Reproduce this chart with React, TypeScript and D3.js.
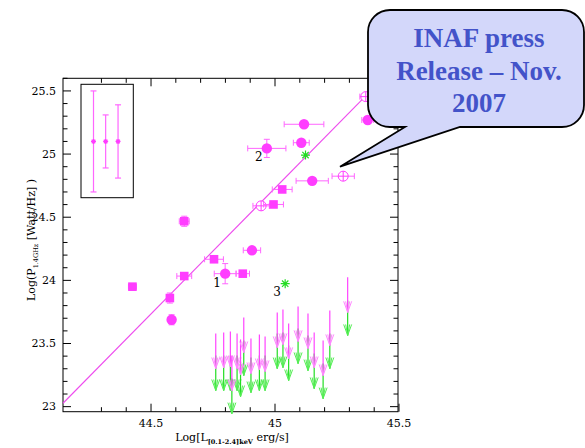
import * as d3 from "d3";

const W = 585;
const H = 448;

// detected sources: log L_X [0.1-2.4 keV], log P_1.4GHz
const detKind = ["sq", "sq", "ci", "sq", "sq", "ci", "sq", "ci", "sq", "op", "sq", "sq", "ci", "op", "ci", "ci", "ci", "ci", "op"];
const detX = [44.425, 44.576, 44.583, 44.634, 44.754, 44.799, 44.870, 44.907, 44.634, 44.944, 44.994, 45.029, 45.150, 45.275, 44.967, 45.106, 45.117, 45.374, 45.366];
const detY = [23.950, 23.860, 23.688, 24.034, 24.167, 24.053, 24.053, 24.238, 24.468, 24.590, 24.601, 24.720, 24.788, 24.825, 25.045, 25.090, 25.236, 25.270, 25.455];
const detXErr = [0.016, 0.012, 0.010, 0.030, 0.038, 0.044, 0.027, 0.035, 0.020, 0.033, 0.040, 0.040, 0.065, 0.045, 0.077, 0.032, 0.080, 0.024, 0.024];
const detYErr = [0.024, 0.040, 0.040, 0.020, 0.020, 0.080, 0.020, 0.020, 0.040, 0.020, 0.020, 0.020, 0.020, 0.020, 0.072, 0.020, 0.020, 0.020, 0.020];

// numbered sources
const numText = ["1", "2"];
const numIdx = [5, 14];

// green stars (other band)
const starX = [45.123, 45.041];
const starY = [24.992, 23.974];

// upper limits: radio (pink) and second band (green)
const ulX = [44.761, 44.793, 44.820, 44.826, 44.847, 44.861, 44.874, 44.903, 44.937, 44.960, 45.009, 45.032, 45.055, 45.093, 45.133, 45.158, 45.194, 45.221, 45.293];
const ulPink = [23.579, 23.587, 23.595, 23.405, 23.579, 23.532, 23.706, 23.540, 23.571, 23.556, 23.746, 23.770, 23.659, 23.794, 23.738, 23.587, 23.524, 23.762, 24.024];
const ulGreen = [23.405, 23.405, 23.405, 23.222, 23.405, 23.357, 23.524, 23.389, 23.405, 23.405, 23.579, 23.587, 23.484, 23.619, 23.563, 23.421, 23.341, 23.579, 23.841];

// correlation fit
const fitX = [44.145, 45.37];
const fitY = [23.027, 25.468];

// typical errors in the inset
const insetX = [44.268, 44.317, 44.367];
const insetY = 25.1;
const insetErr = [0.40, 0.21, 0.29];

const yTickLabels = ["23", "23.5", "24", "24.5", "25", "25.5"];
const xTickLabels = ["44.5", "45", "45.5"];

const PINK = "#ff3dff";
const PINK_ERR = "#ff66ff";
const GREEN = "#22dd22";
const TXT = "DejaVu Serif, serif";

const App = () => {
  const x = d3.scaleLinear().domain([44.145, 45.496]).range([63, 398]);
  const y = d3.scaleLinear().domain([22.96, 25.6]).range([411.7, 78.3]);
  const [x0, x1] = x.range();
  const [y0, y1] = y.range();

  const yMinor = d3.range(230, 257).map((v) => v / 10);
  const xMinor = d3.range(443, 456).map((v) => v / 10).filter((v) => v > 44.145);
  const isMajor = (v: number) => Math.abs(v * 2 - Math.round(v * 2)) < 1e-6;

  const line = d3.line<number>().x((d, i) => x(fitX[i])).y((d, i) => y(fitY[i]));

  const arrowHead = (cx: number, ty: number) =>
    `M${cx - 4},${ty - 11}L${cx},${ty}L${cx + 4},${ty - 11}M${cx - 2},${ty - 11}L${cx},${ty}L${cx + 2},${ty - 11}`;
  const AL = 35;

  const star = (cx: number, cy: number, r: number) =>
    d3.range(4).map((k) => {
      const a = (k * Math.PI) / 4;
      return `M${cx - r * Math.cos(a)},${cy - r * Math.sin(a)}L${cx + r * Math.cos(a)},${cy + r * Math.sin(a)}`;
    }).join("");

  // callout balloon
  const bx0 = 368, bx1 = 584, by0 = 10, by1 = 127, br = 22;
  const p = d3.path();
  p.moveTo(bx0 + br, by0);
  p.lineTo(bx1 - br, by0);
  p.arcTo(bx1, by0, bx1, by0 + br, br);
  p.lineTo(bx1, by1 - br);
  p.arcTo(bx1, by1, bx1 - br, by1, br);
  p.lineTo(460, by1);
  p.lineTo(340, 166.7);
  p.lineTo(405, by1);
  p.lineTo(bx0 + br, by1);
  p.arcTo(bx0, by1, bx0, by1 - br, br);
  p.lineTo(bx0, by0 + br);
  p.arcTo(bx0, by0, bx0 + br, by0, br);
  p.closePath();

  const insetPx = insetX.map((v) => x(v));

  return (
    <svg width={W} height={H} style={{ display: "block", position: "absolute", left: 0, top: 0 }}>
      <rect width={W} height={H} fill="#fff" />

      {/* frame */}
      <rect x={x0} y={y1} width={x1 - x0} height={y0 - y1} fill="none" stroke="#000" strokeWidth={1} />

      {/* y ticks left and right */}
      {yMinor.map((v) => {
        const L = isMajor(v) ? 8 : 4.5;
        return (
          <g key={"yt" + v} stroke="#000" strokeWidth={1}>
            <line x1={x0} x2={x0 + L} y1={y(v)} y2={y(v)} />
            <line x1={x1} x2={x1 - L} y1={y(v)} y2={y(v)} />
          </g>
        );
      })}
      {/* x ticks bottom and top */}
      {xMinor.map((v) => {
        const L = isMajor(v) ? 8 : 4.5;
        return (
          <g key={"xt" + v} stroke="#000" strokeWidth={1}>
            <line x1={x(v)} x2={x(v)} y1={y0} y2={y0 - L} />
            <line x1={x(v)} x2={x(v)} y1={y1} y2={y1 + L} />
          </g>
        );
      })}

      {yTickLabels.map((t) => (
        <text key={"yl" + t} x={56} y={y(+t)} dy="0.35em" textAnchor="end" fontFamily={TXT} fontSize={11} fill="#000">
          {t}
        </text>
      ))}
      {xTickLabels.map((t) => (
        <text key={"xl" + t} x={x(+t)} y={427} textAnchor="middle" fontFamily={TXT} fontSize={11} fill="#000">
          {t}
        </text>
      ))}

      {/* axis titles */}
      <text x={232} y={441} textAnchor="middle" fontFamily={TXT} fontSize={11} fill="#000">
        Log[L
        <tspan fontSize={6.5} fontWeight="bold" dy={3}>[0.1-2.4]keV</tspan>
        <tspan dy={-3}> erg/s]</tspan>
      </text>
      <text transform="translate(35,240) rotate(-90)" textAnchor="middle" fontFamily={TXT} fontSize={11} fill="#000">
        Log(P
        <tspan fontSize={6.5} dy={3}>1.4GHz</tspan>
        <tspan dy={-3}> [Watt/Hz]  )</tspan>
      </text>

      {/* inset with typical errors */}
      <rect x={81} y={84.3} width={52.3} height={113.4} fill="none" stroke="#000" strokeWidth={1} />
      {insetPx.map((px, i) => (
        <g key={"in" + i} stroke={PINK_ERR} strokeWidth={1.2}>
          <line x1={px} x2={px} y1={y(insetY + insetErr[i])} y2={y(insetY - insetErr[i])} />
          <line x1={px - 3} x2={px + 3} y1={y(insetY + insetErr[i])} y2={y(insetY + insetErr[i])} />
          <line x1={px - 3} x2={px + 3} y1={y(insetY - insetErr[i])} y2={y(insetY - insetErr[i])} />
          <path d={star(px, y(insetY), 2.5)} stroke={PINK} />
        </g>
      ))}

      {/* fit */}
      <path d={line(fitX) || ""} fill="none" stroke="#ee4cee" strokeWidth={1.1} />

      {/* upper limits: green first, pink over */}
      {ulX.map((v, i) => {
        const cx = x(v);
        const gy = y(ulGreen[i]);
        return (
          <g key={"ug" + i} fill="none">
            <line x1={cx} x2={cx} y1={gy} y2={gy + AL} stroke={GREEN} strokeWidth={1.2} />
            <path d={arrowHead(cx, gy + AL)} stroke="#55ee55" strokeWidth={1} />
          </g>
        );
      })}
      {ulX.map((v, i) => {
        const cx = x(v);
        const py = y(ulPink[i]);
        return (
          <g key={"up" + i} fill="none">
            <line x1={cx} x2={cx} y1={py} y2={py + AL} stroke="#ff44ff" strokeWidth={1.2} />
            <path d={arrowHead(cx, py + AL)} stroke="#ff88ff" strokeWidth={1} />
          </g>
        );
      })}

      {/* detections */}
      {detX.map((v, i) => {
        const cx = x(v);
        const cy = y(detY[i]);
        const xl = x(v - detXErr[i]);
        const xr = x(v + detXErr[i]);
        const yt = y(detY[i] + detYErr[i]);
        const yb = y(detY[i] - detYErr[i]);
        const k = detKind[i];
        return (
          <g key={"d" + i}>
            <g stroke={PINK_ERR} strokeWidth={1}>
              <line x1={xl} x2={xr} y1={cy} y2={cy} />
              <line x1={xl} x2={xl} y1={cy - 3} y2={cy + 3} />
              <line x1={xr} x2={xr} y1={cy - 3} y2={cy + 3} />
              <line x1={cx} x2={cx} y1={yt} y2={yb} />
              <line x1={cx - 3} x2={cx + 3} y1={yt} y2={yt} />
              <line x1={cx - 3} x2={cx + 3} y1={yb} y2={yb} />
            </g>
            {k === "ci" && <circle cx={cx} cy={cy} r={5.2} fill={PINK} />}
            {k === "sq" && <rect x={cx - 4.3} y={cy - 4.3} width={8.6} height={8.6} fill={PINK} />}
            {k === "op" && (
              <g fill="none" stroke={PINK} strokeWidth={1}>
                <circle cx={cx} cy={cy} r={5} fill="#fff" />
                <line x1={cx - 5} x2={cx + 5} y1={cy} y2={cy} />
                <line x1={cx} x2={cx} y1={cy - 5} y2={cy + 5} />
              </g>
            )}
          </g>
        );
      })}

      {starX.map((v, i) => (
        <path key={"s" + i} d={star(x(v), y(starY[i]), 4.5)} stroke={GREEN} strokeWidth={1.2} fill="none" />
      ))}

      {numIdx.map((di, i) => (
        <text key={"n" + i} x={x(detX[di]) - 8} y={y(detY[di]) + 13} textAnchor="middle" fontFamily={TXT} fontSize={12} fill="#000">
          {numText[i]}
        </text>
      ))}
      <text x={x(starX[1]) - 8} y={y(starY[1]) + 12} textAnchor="middle" fontFamily={TXT} fontSize={12} fill="#000">
        3
      </text>

      {/* callout */}
      <path d={p.toString()} fill="#d3d7fa" stroke="#000" strokeWidth={1.8} />
      <g fontFamily="Liberation Serif, serif" fontWeight="bold" fontSize={27} fill="#4353c9" textAnchor="middle">
        <text x={479} y={47}>INAF press</text>
        <text x={479} y={80}>Release – Nov.</text>
        <text x={479} y={112}>2007</text>
      </g>
    </svg>
  );
};

export default App;
